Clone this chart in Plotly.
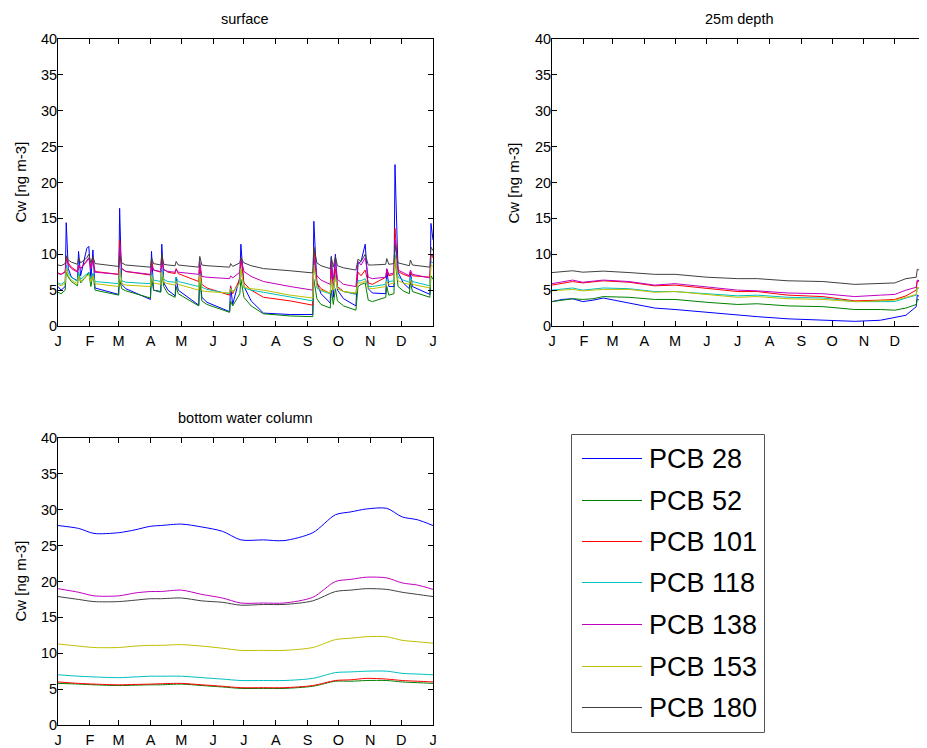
import plotly.graph_objects as go

# ---------------- data ----------------
series_names = ["PCB 28", "PCB 52", "PCB 101", "PCB 118", "PCB 138", "PCB 153", "PCB 180"]
series_colors = ["#0000ff", "#008000", "#ff0000", "#00bfbf", "#bf00bf", "#bfbf00", "#404040"]

month_days = [0, 31, 59, 90, 120, 151, 181, 212, 243, 273, 304, 334, 365]
month_labels = ["J", "F", "M", "A", "M", "J", "J", "A", "S", "O", "N", "D", "J"]
y_ticks = [0, 5, 10, 15, 20, 25, 30, 35, 40]

# surface (day of year)
surf_days = [0, 3, 7, 8, 10, 13, 19, 20, 22, 28, 30, 32, 34, 36, 59, 60, 62, 66, 90, 91,
             93, 100, 101, 103, 107, 114, 115, 117, 137, 138, 140, 145, 167, 168, 170, 177, 178, 181, 188, 200,
             226, 248, 249, 252, 256, 265, 266, 268, 270, 272, 278, 290, 292, 295, 299, 302, 306, 319, 320, 322,
             327, 328, 331, 336, 342, 343, 345, 362, 363, 365]
surf_pcb28 = [5.5, 5.0, 5.5, 14.4, 8.0, 6.8, 6.3, 10.4, 7.0, 10.8, 11.1, 6.5, 10.6, 5.3, 4.4, 16.4, 5.8, 5.2, 3.7, 10.4,
              5.0, 4.8, 11.4, 6.0, 5.0, 4.2, 6.8, 5.0, 2.9, 7.5, 4.0, 3.3, 2.0, 5.6, 3.0, 6.8, 11.4, 5.5, 3.5, 1.8,
              1.6, 1.6, 14.6, 6.0, 4.5, 3.2, 9.7, 4.0, 10.0, 5.0, 3.8, 2.8, 8.7, 9.0, 11.4, 5.2, 4.6, 4.5, 7.9, 5.5,
              5.5, 22.5, 7.5, 6.0, 5.2, 7.5, 5.5, 4.4, 14.3, 12.0]
surf_pcb52 = [4.7, 4.5, 5.0, 7.5, 6.8, 6.2, 5.6, 7.5, 6.0, 7.0, 7.5, 5.5, 7.3, 5.0, 4.3, 6.5, 5.2, 4.9, 3.9, 6.8,
              5.0, 4.7, 7.5, 5.5, 4.5, 4.0, 5.5, 4.5, 2.8, 6.8, 3.5, 3.0, 1.9, 3.5, 2.8, 4.5, 6.5, 4.0, 2.8, 1.7,
              1.4, 1.3, 6.5, 3.8, 3.0, 2.5, 5.0, 3.0, 5.2, 3.5, 2.8, 2.2, 5.5, 5.8, 6.0, 3.6, 3.4, 4.0, 5.5, 4.3,
              4.5, 9.5, 5.5, 4.9, 4.5, 6.2, 4.8, 4.0, 7.0, 6.5]
surf_pcb101 = [7.4, 7.2, 7.6, 9.6, 8.8, 8.2, 7.6, 8.5, 8.0, 9.2, 9.5, 8.0, 9.3, 7.6, 7.2, 12.0, 8.0, 7.6, 7.1, 9.0,
               7.8, 7.5, 9.5, 7.9, 7.5, 7.3, 8.0, 7.3, 6.2, 8.5, 5.8, 5.3, 4.3, 5.5, 4.5, 6.5, 9.5, 6.0, 5.0, 4.0,
               3.5, 2.9, 11.0, 6.0, 5.2, 4.5, 8.0, 5.0, 8.0, 5.5, 4.8, 4.5, 7.5, 7.0, 7.8, 6.0, 5.8, 6.8, 7.8, 7.0,
               7.2, 13.6, 7.6, 7.2, 6.9, 7.5, 7.0, 6.8, 10.0, 9.5]
surf_pcb118 = [6.0, 5.8, 6.2, 8.5, 7.3, 6.8, 6.2, 7.5, 6.5, 7.3, 7.5, 6.5, 7.3, 6.2, 5.9, 8.5, 6.3, 6.1, 5.9, 7.5,
               6.4, 6.2, 8.0, 6.5, 6.2, 6.1, 6.8, 6.2, 5.5, 7.3, 5.4, 5.1, 4.5, 5.3, 4.7, 6.0, 8.0, 5.3, 5.0, 4.7,
               4.0, 3.5, 9.0, 5.3, 4.9, 4.5, 6.5, 5.0, 7.0, 5.2, 4.8, 4.4, 6.3, 6.3, 6.6, 5.5, 5.5, 5.8, 6.5, 6.2,
               6.3, 10.0, 6.8, 6.4, 6.1, 6.8, 6.2, 5.6, 9.0, 8.8]
surf_pcb138 = [7.3, 7.2, 7.5, 9.3, 8.6, 8.0, 7.5, 8.5, 8.0, 9.0, 9.5, 8.0, 9.2, 7.5, 7.2, 11.0, 8.0, 7.6, 7.2, 8.5,
               7.8, 7.6, 9.0, 7.8, 7.6, 7.5, 7.9, 7.5, 7.2, 9.0, 6.9, 6.8, 6.6, 7.0, 6.7, 7.5, 9.5, 7.6, 6.9, 6.2,
               5.5, 5.0, 9.5, 7.0, 6.4, 5.8, 9.0, 6.5, 9.2, 6.5, 5.8, 5.5, 9.0, 8.5, 9.5, 6.8, 6.6, 6.8, 8.0, 7.2,
               7.4, 12.0, 7.8, 7.4, 7.0, 7.8, 7.2, 6.7, 10.0, 9.8]
surf_pcb153 = [5.8, 5.6, 6.0, 8.0, 7.0, 6.4, 5.9, 7.0, 6.2, 7.0, 7.2, 6.2, 7.0, 5.9, 5.5, 8.0, 5.9, 5.7, 5.5, 7.0,
               6.0, 5.8, 7.5, 6.1, 5.9, 5.7, 6.3, 5.8, 5.0, 7.0, 4.9, 4.8, 4.6, 5.2, 4.7, 6.0, 8.0, 5.4, 5.2, 5.0,
               4.3, 3.9, 8.5, 5.5, 5.0, 4.6, 6.5, 5.0, 6.8, 5.2, 4.8, 4.6, 6.0, 6.0, 6.3, 5.3, 5.2, 5.5, 6.2, 5.8,
               6.0, 9.5, 6.3, 6.0, 5.8, 6.4, 5.8, 5.3, 8.5, 8.3]
surf_pcb180 = [8.5, 8.4, 8.7, 9.8, 9.2, 8.9, 8.6, 9.5, 8.8, 9.5, 10.0, 8.8, 9.7, 8.7, 8.3, 9.8, 8.8, 8.5, 8.2, 9.5,
               8.7, 8.5, 10.0, 8.6, 8.5, 8.4, 9.0, 8.5, 8.2, 9.7, 8.5, 8.4, 8.2, 8.7, 8.3, 8.8, 9.5, 8.8, 8.4, 8.0,
               7.7, 7.4, 11.0, 8.8, 8.4, 8.0, 9.6, 8.2, 9.7, 8.4, 8.1, 7.8, 9.3, 9.0, 10.0, 8.5, 8.5, 8.6, 9.4, 8.6,
               8.7, 11.3, 8.8, 8.6, 8.4, 9.2, 8.5, 8.2, 11.0, 10.5]

# 25 m depth
depth_days = [0, 10, 20, 30, 40, 50, 75, 100, 120, 151, 181, 200, 230, 264, 295, 320, 334, 345, 355, 356, 365]
depth_pcb28 = [3.4, 3.7, 3.8, 3.4, 3.6, 3.9, 3.2, 2.5, 2.3, 1.9, 1.5, 1.3, 1.0, 0.85, 0.65, 0.8, 1.2, 1.5, 2.7, 4.3, 3.5]
depth_pcb52 = [3.4, 3.6, 3.8, 3.7, 3.8, 4.1, 4.0, 3.7, 3.7, 3.3, 3.0, 3.1, 2.8, 2.7, 2.3, 2.3, 2.2, 2.5, 3.0, 3.7, 3.5]
depth_pcb101 = [5.7, 6.0, 6.2, 6.0, 6.1, 6.3, 6.1, 5.6, 5.7, 5.2, 4.8, 4.8, 4.3, 4.1, 3.5, 3.6, 3.7, 4.2, 5.0, 6.3, 5.8]
depth_pcb118 = [5.0, 5.1, 5.3, 5.0, 5.1, 5.3, 5.2, 4.8, 4.8, 4.5, 4.2, 4.3, 4.0, 3.9, 3.4, 3.4, 3.4, 3.9, 4.3, 5.3, 5.0]
depth_pcb138 = [5.9, 6.2, 6.4, 6.1, 6.2, 6.4, 6.2, 5.7, 5.9, 5.4, 5.0, 4.9, 4.6, 4.5, 4.1, 4.3, 4.4, 5.0, 5.4, 6.4, 6.0]
depth_pcb153 = [4.9, 5.0, 5.1, 4.9, 5.0, 5.1, 5.1, 4.7, 4.8, 4.4, 4.0, 4.1, 3.8, 3.7, 3.4, 3.5, 3.6, 4.0, 4.4, 5.4, 5.0]
depth_pcb180 = [7.45, 7.6, 7.7, 7.5, 7.6, 7.65, 7.45, 7.2, 7.2, 6.8, 6.6, 6.6, 6.3, 6.2, 5.8, 5.9, 6.0, 6.6, 6.8, 7.9, 7.4]

# bottom water column
bottom_days = [0, 20, 35, 59, 75, 90, 100, 120, 140, 160, 178, 200, 220, 248, 270, 285, 300, 320, 335, 350, 365]
bottom_pcb28 = [27.8, 27.4, 26.7, 26.8, 27.2, 27.7, 27.8, 28.0, 27.6, 27.0, 25.8, 25.8, 25.7, 26.8, 29.3, 29.7, 30.1, 30.2, 29.0, 28.6, 27.8]
bottom_pcb52 = [5.8, 5.7, 5.6, 5.5, 5.55, 5.6, 5.6, 5.7, 5.5, 5.3, 5.1, 5.1, 5.1, 5.4, 6.1, 6.1, 6.2, 6.2, 6.0, 5.9, 5.8]
bottom_pcb101 = [6.0, 5.8, 5.7, 5.6, 5.65, 5.7, 5.75, 5.8, 5.6, 5.4, 5.2, 5.2, 5.2, 5.5, 6.2, 6.3, 6.5, 6.4, 6.2, 6.1, 6.0]
bottom_pcb118 = [7.0, 6.8, 6.7, 6.6, 6.7, 6.8, 6.8, 6.8, 6.6, 6.4, 6.2, 6.2, 6.2, 6.5, 7.3, 7.4, 7.5, 7.5, 7.2, 7.1, 7.0]
bottom_pcb138 = [19.0, 18.5, 18.0, 18.0, 18.4, 18.6, 18.6, 18.8, 18.2, 17.7, 17.0, 17.0, 17.0, 17.8, 20.0, 20.3, 20.6, 20.5, 19.8, 19.5, 18.9]
bottom_pcb153 = [11.3, 11.0, 10.8, 10.8, 11.0, 11.1, 11.1, 11.2, 11.0, 10.7, 10.4, 10.4, 10.4, 10.8, 11.9, 12.1, 12.3, 12.3, 11.8, 11.6, 11.4]
bottom_pcb180 = [17.9, 17.5, 17.2, 17.2, 17.4, 17.6, 17.6, 17.7, 17.3, 17.1, 16.7, 16.8, 16.8, 17.3, 18.6, 18.8, 19.0, 18.9, 18.5, 18.2, 17.9]

panel_titles = ["surface", "25m depth", "bottom water column"]
y_title = "Cw [ng m-3]"

# ---------------- figure ----------------
# the page body has an 8px margin, so the figure is drawn 8px smaller and all
# window-pixel positions are shifted by 8px
OFF = 8
W, H = 927 - OFF, 748 - OFF
FONT = "Liberation Sans, Arial, Helvetica, sans-serif"

def fx(X):
    return (X - OFF) / W

def fy(Y):
    return 1 - (Y - OFF) / H

panels = [
    dict(x=[fx(58), fx(433)], y=[fy(326), fy(39)], ytitle_x=20, days=surf_days,
         data=[surf_pcb28, surf_pcb52, surf_pcb101, surf_pcb118, surf_pcb138, surf_pcb153, surf_pcb180], shape="linear"),
    dict(x=[fx(552), fx(926.5)], y=[fy(326), fy(39)], ytitle_x=513, days=depth_days,
         data=[depth_pcb28, depth_pcb52, depth_pcb101, depth_pcb118, depth_pcb138, depth_pcb153, depth_pcb180], shape="linear"),
    dict(x=[fx(58), fx(433)], y=[fy(725), fy(438)], ytitle_x=20, days=bottom_days,
         data=[bottom_pcb28, bottom_pcb52, bottom_pcb101, bottom_pcb118, bottom_pcb138, bottom_pcb153, bottom_pcb180], shape="spline"),
]

fig = go.Figure()
layout = dict(width=W, height=H, margin=dict(l=0, r=0, t=0, b=0, autoexpand=False),
              paper_bgcolor="white", plot_bgcolor="white", showlegend=False,
              font=dict(family=FONT, color="black", size=14))
annotations = []
for i, p in enumerate(panels):
    n = "" if i == 0 else str(i + 1)
    for name, color, vals in zip(series_names, series_colors, p["data"]):
        assert len(vals) == len(p["days"])
        fig.add_trace(go.Scatter(x=p["days"], y=vals, mode="lines", name=name,
                                 line=dict(color=color, width=1, shape=p["shape"], smoothing=0.8),
                                 xaxis="x" + n, yaxis="y" + n, showlegend=False, cliponaxis=False))
    axis_common = dict(showline=True, linecolor="black", linewidth=1, mirror="ticks",
                       ticks="inside", ticklen=5, tickcolor="black", showgrid=False, zeroline=False,
                       automargin=False, tickfont=dict(family=FONT, size=14.5, color="black"))
    layout["xaxis" + n] = dict(domain=p["x"], range=[0, 365], tickvals=month_days, ticktext=month_labels,
                               anchor="y" + n, ticklabelstandoff=2, **axis_common)
    layout["yaxis" + n] = dict(domain=p["y"], range=[0, 40], tickvals=y_ticks, anchor="x" + n,
                               ticklabelstandoff=-3, **axis_common)
    annotations.append(dict(text=panel_titles[i], x=(p["x"][0] + p["x"][1]) / 2, y=p["y"][1],
                            xref="paper", yref="paper", xanchor="center", yanchor="middle", yshift=20,
                            showarrow=False, font=dict(family=FONT, size=14.5, color="black")))
    annotations.append(dict(text=y_title, x=fx(p["ytitle_x"]), y=(p["y"][0] + p["y"][1]) / 2,
                            xref="paper", yref="paper", xanchor="center", yanchor="middle", textangle=-90,
                            showarrow=False, font=dict(family=FONT, size=15, color="black")))

# legend box drawn from the series lists
shapes = [dict(type="rect", xref="paper", yref="paper", x0=fx(571.5), x1=fx(764.5),
               y0=fy(732.5), y1=fy(434.5), line=dict(color="#555555", width=1), fillcolor="white")]
row0, row_step = 458, 41.5
for k, (name, color) in enumerate(zip(series_names, series_colors)):
    yy = round(row0 + k * row_step) + 0.5
    shapes.append(dict(type="line", xref="paper", yref="paper", x0=fx(582), x1=fx(642), y0=fy(yy), y1=fy(yy),
                       line=dict(color=color, width=1)))
    annotations.append(dict(text=name, x=fx(647), y=fy(yy), xref="paper", yref="paper", xanchor="left",
                            yanchor="middle", showarrow=False, font=dict(family=FONT, size=27, color="black")))

layout["annotations"] = annotations
layout["shapes"] = shapes
fig.update_layout(**layout)
fig.write_html("out.html")
